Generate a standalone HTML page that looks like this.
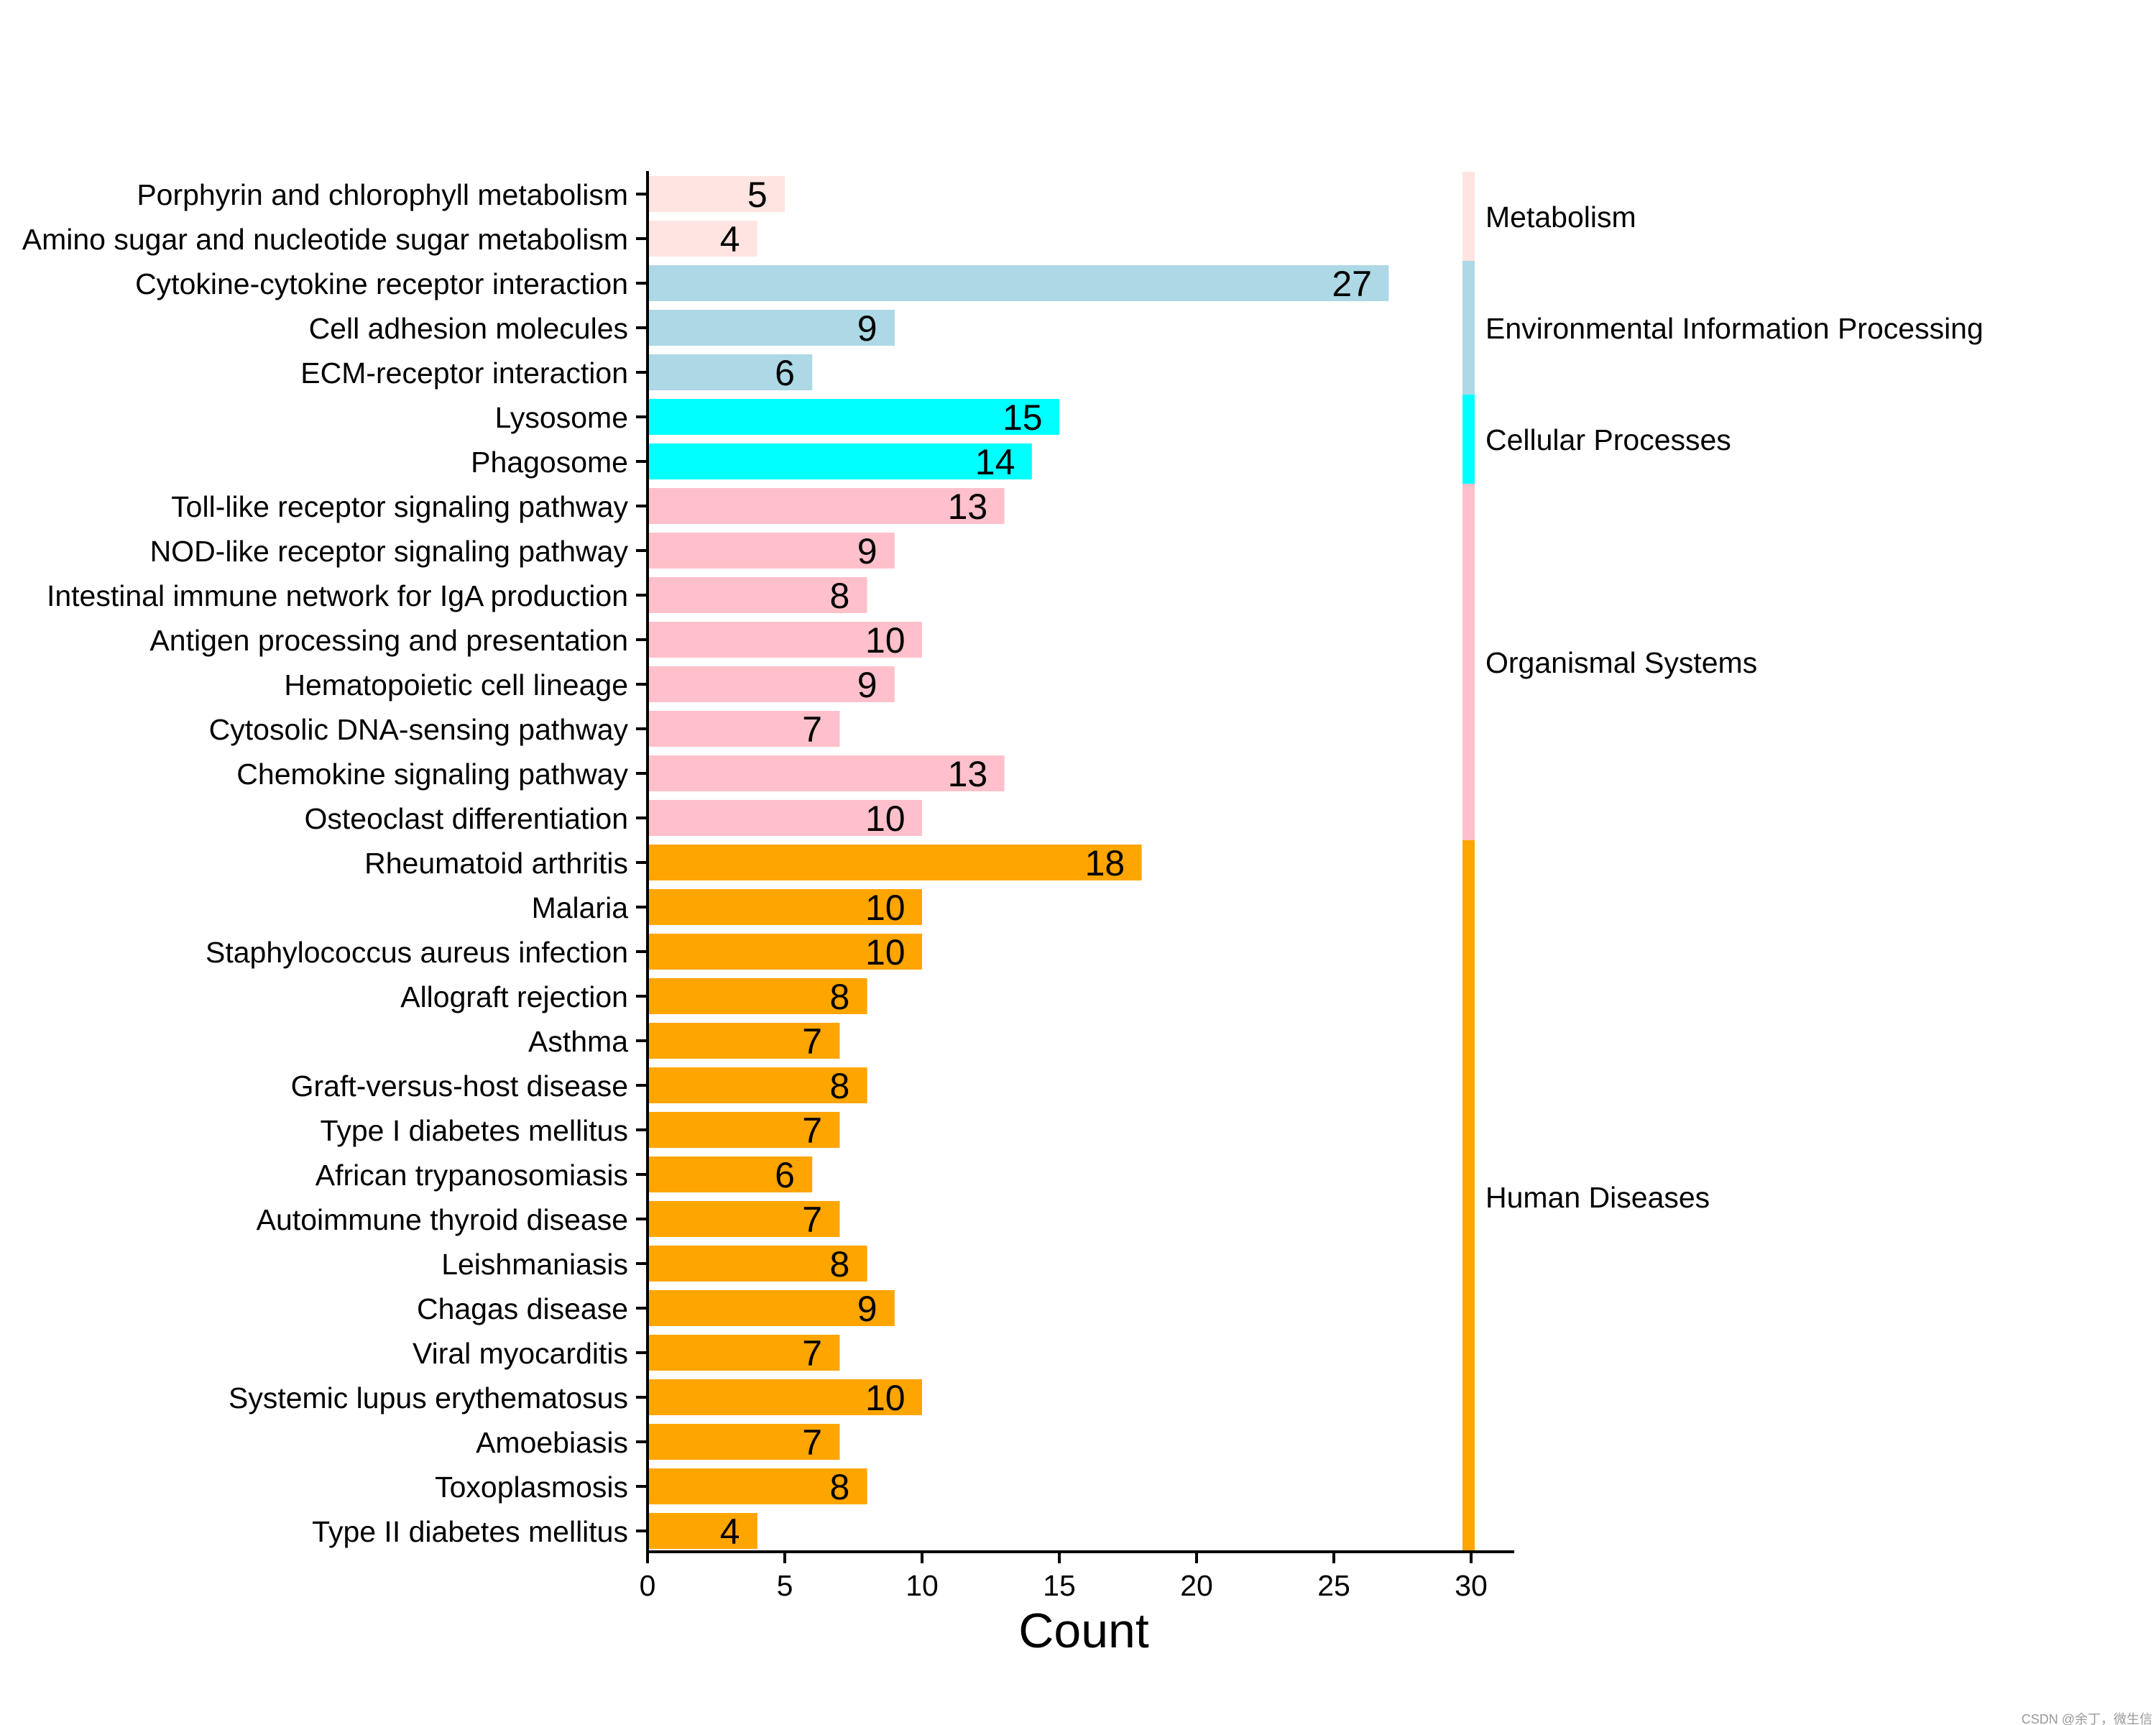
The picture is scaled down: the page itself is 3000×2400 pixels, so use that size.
<!DOCTYPE html>
<html><head><meta charset="utf-8"><style>
html,body{margin:0;padding:0;background:#fff;}
svg{display:block;font-family:"Liberation Sans",Arial,sans-serif;}
</style></head><body>
<svg id="chart" width="3000" height="2400" viewBox="0 0 3000 2400">
<g id="bars"></g>
<g id="strip"></g>
<g id="axes"></g>
<text x="1508" y="2292" font-size="68" text-anchor="middle">Count</text>
<text x="2995" y="2398" font-size="18" fill="#999" text-anchor="end" font-family="Liberation Sans, Noto Sans CJK SC, sans-serif">CSDN @余丁，微生信</text>
</svg>
<script>
const categories=["Porphyrin and chlorophyll metabolism","Amino sugar and nucleotide sugar metabolism","Cytokine-cytokine receptor interaction","Cell adhesion molecules","ECM-receptor interaction","Lysosome","Phagosome","Toll-like receptor signaling pathway","NOD-like receptor signaling pathway","Intestinal immune network for IgA production","Antigen processing and presentation","Hematopoietic cell lineage","Cytosolic DNA-sensing pathway","Chemokine signaling pathway","Osteoclast differentiation","Rheumatoid arthritis","Malaria","Staphylococcus aureus infection","Allograft rejection","Asthma","Graft-versus-host disease","Type I diabetes mellitus","African trypanosomiasis","Autoimmune thyroid disease","Leishmaniasis","Chagas disease","Viral myocarditis","Systemic lupus erythematosus","Amoebiasis","Toxoplasmosis","Type II diabetes mellitus"];
const counts=[5,4,27,9,6,15,14,13,9,8,10,9,7,13,10,18,10,10,8,7,8,7,6,7,8,9,7,10,7,8,4];
const groups=["Metabolism","Metabolism","Environmental Information Processing","Environmental Information Processing","Environmental Information Processing","Cellular Processes","Cellular Processes","Organismal Systems","Organismal Systems","Organismal Systems","Organismal Systems","Organismal Systems","Organismal Systems","Organismal Systems","Organismal Systems","Human Diseases","Human Diseases","Human Diseases","Human Diseases","Human Diseases","Human Diseases","Human Diseases","Human Diseases","Human Diseases","Human Diseases","Human Diseases","Human Diseases","Human Diseases","Human Diseases","Human Diseases","Human Diseases"];
const groupNames=["Metabolism","Environmental Information Processing","Cellular Processes","Organismal Systems","Human Diseases"];
const groupColors=["#FFE4E1","#ADD8E6","#00FFFF","#FFC0CB","#FFA500"];
const xTicks=[0,5,10,15,20,25,30];

const NS="http://www.w3.org/2000/svg";
const X0=901,UNIT=38.2,Y0=270,STEP=62,BH=50;
const xs=v=>X0+v*UNIT, ys=i=>Y0+i*STEP;
function mk(tag,attrs,parent,txt){const e=document.createElementNS(NS,tag);for(const k in attrs)e.setAttribute(k,attrs[k]);if(txt!==undefined)e.textContent=txt;parent.appendChild(e);return e;}
const gb=document.getElementById('bars'),gs=document.getElementById('strip'),ga=document.getElementById('axes');
categories.forEach((c,i)=>{
  const col=groupColors[groupNames.indexOf(groups[i])];
  const r=mk('rect',{x:xs(0),y:ys(i)-BH/2,width:xs(counts[i])-xs(0),height:BH,fill:col},gb);
  
  
  const lab=String(counts[i]);
  const cx=xs(counts[i]-1)-(lab.length>1?13:0);
  const t=mk('text',{x:cx,y:ys(i)+18,'font-size':50,'text-anchor':'middle'},gb,lab);
  
  
  const l=mk('text',{x:874,y:ys(i)+15,'font-size':41,'text-anchor':'end'},ga,c);
  
  
  const tk=mk('line',{x1:885,x2:901,y1:ys(i),y2:ys(i),stroke:'#000','stroke-width':4},ga);
  
  
});
groupNames.forEach((g,k)=>{
  let first=groups.indexOf(g),last=groups.lastIndexOf(g);
  const top=ys(first)-STEP/2,bot=ys(last)+STEP/2;
  const r=mk('rect',{x:2035,y:top,width:17,height:bot-top,fill:groupColors[k]},gs);
  
  
  const t=mk('text',{x:2067,y:(top+bot)/2+15,'font-size':41},gs,g);
  
  
});
xTicks.forEach(v=>{
  const tk=mk('line',{x1:xs(v),x2:xs(v),y1:2159,y2:2175,stroke:'#000','stroke-width':4},ga);
  
  
  const t=mk('text',{x:xs(v),y:2220,'font-size':41,'text-anchor':'middle'},ga,String(v));
  
  
});
const sp1=mk('line',{x1:901,x2:901,y1:238,y2:2161,stroke:'#000','stroke-width':4},ga);


const sp2=mk('line',{x1:899,x2:2107,y1:2159,y2:2159,stroke:'#000','stroke-width':4},ga);


</script>
</body></html>
